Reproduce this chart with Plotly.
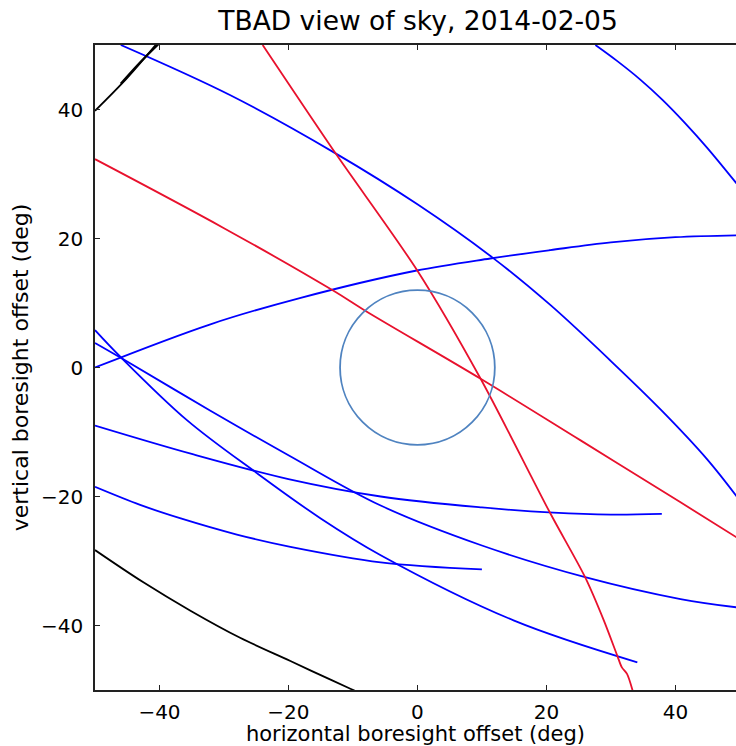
import plotly.graph_objects as go

# ---- data (deg) ----
red_a_x = [-24.0, -12.7, 0.0, 9.8, 20.6, 26.0, 28.9, 31.0, 31.7, 32.5, 33.4]
red_a_y = [50.0, 33.2, 15.0, -1.75, -22.6, -32.5, -39.2, -44.7, -46.5, -47.5, -50.2]

red_b_x = [-50.0, -30.0, -13.2, -8.1, 9.8, 25.3, 40.8, 49.6]
red_b_y = [32.3, 21.6, 12.0, 8.8, -1.75, -11.3, -20.9, -26.4]

blue_1_x = [-46.0, -29.0, -12.7, 0.0, 11.7, 20.6, 30.0, 38.0, 44.9, 49.6]
blue_1_y = [50.0, 42.2, 33.2, 25.3, 17.0, 9.7, 1.0, -6.8, -14.2, -20.1]

blue_2_x = [27.6, 31.0, 34.6, 38.0, 41.5, 44.9, 49.6]
blue_2_y = [50.0, 47.5, 44.6, 41.5, 37.9, 34.1, 28.4]

blue_3_x = [-50.0, -32.1, -18.1, -0.3, 11.3, 20.6, 30.0, 40.0, 49.6]
blue_3_y = [0.0, 6.7, 10.8, 15.0, 16.9, 18.2, 19.4, 20.2, 20.5]

blue_4_x = [-50.0, -46.0, -35.7, -25.0, -15.0, -5.7, 14.9, 34.1]
blue_4_y = [5.8, 1.6, -8.2, -16.3, -23.4, -29.1, -39.2, -45.7]

blue_5_x = [-50.0, -46.0, -32.1, -20.0, -5.7, 10.0, 26.0, 40.8, 49.6]
blue_5_y = [3.8, 1.5, -6.7, -13.6, -21.4, -27.6, -32.5, -35.9, -37.2]

blue_6_x = [-50.0, -35.0, -20.0, -5.7, 10.0, 21.1, 30.0, 37.9]
blue_6_y = [-9.0, -13.4, -17.3, -20.0, -21.7, -22.5, -22.8, -22.7]

blue_7_x = [-50.0, -43.0, -36.7, -28.0, -19.7, -5.7, 10.0]
blue_7_y = [-18.5, -21.3, -23.4, -25.9, -27.8, -30.2, -31.3]

black_1_x = [-50.0, -42.5, -35.2, -27.5, -19.7, -15.0, -10.4, -8.0]
black_1_y = [-28.3, -33.3, -37.7, -41.9, -45.5, -47.7, -49.8, -50.9]

black_2_x = [-50.0, -45.0, -40.6]
black_2_y = [39.8, 44.9, 50.0]
black_3_x = [-46.0, -43.2, -40.0]
black_3_y = [44.0, 47.1, 50.3]

circle_radius = 12.0

tick_vals = [-40, -20, 0, 20, 40]
tick_text = ["\u221240", "\u221220", "0", "20", "40"]

BLUE = "#0000ff"
RED = "#e8112d"
BLACK = "#000000"

fig = go.Figure()

def add(x, y, color, width=1.8, smooth=1.0):
    fig.add_trace(go.Scatter(x=x, y=y, mode="lines",
                             line=dict(color=color, width=width, shape="spline", smoothing=smooth),
                             hoverinfo="skip", showlegend=False))

add(blue_1_x, blue_1_y, BLUE)
add(blue_2_x, blue_2_y, BLUE)
add(blue_3_x, blue_3_y, BLUE)
add(blue_4_x, blue_4_y, BLUE)
add(blue_5_x, blue_5_y, BLUE)
add(blue_6_x, blue_6_y, BLUE)
add(blue_7_x, blue_7_y, BLUE)
add(black_1_x, black_1_y, BLACK, 1.8)
add(black_2_x, black_2_y, BLACK, 1.8)
add(black_3_x, black_3_y, BLACK, 2.2)
add(red_a_x, red_a_y, RED, 1.8, 0.8)
add(red_b_x, red_b_y, RED, 1.8, 1.0)

fig.add_shape(type="circle", xref="x", yref="y",
              x0=-circle_radius, y0=-circle_radius, x1=circle_radius, y1=circle_radius,
              line=dict(color="#4f83c0", width=1.8))

axis_common = dict(
    showgrid=False, zeroline=False,
    showline=True, linecolor="#222222", linewidth=1.5,
    ticks="inside", ticklen=5, tickwidth=1, tickcolor="#222222",
    tickvals=tick_vals, ticktext=tick_text,
    tickfont=dict(family="DejaVu Sans", size=20, color="black"),
)

fig.update_layout(
    width=736, height=746,
    margin=dict(l=95, r=0, t=45, b=56),
    paper_bgcolor="white", plot_bgcolor="white",
    title=dict(text="TBAD view of sky, 2014-02-05", x=0.568, xanchor="center",
               y=0.972, yanchor="middle",
               font=dict(family="DejaVu Sans", size=26.5, color="black")),
    xaxis=dict(range=[-50, 49.4], mirror="ticks", ticklabelstandoff=3,
               title=dict(text="horizontal boresight offset (deg)", standoff=0,
                          font=dict(family="DejaVu Sans", size=21, color="black")),
               **axis_common),
    yaxis=dict(range=[-50, 50], mirror=False, ticklabelstandoff=6,
               title=dict(text="vertical boresight offset (deg)", standoff=6,
                          font=dict(family="DejaVu Sans", size=22, color="black")),
               **axis_common),
)

fig.write_html("out.html")
